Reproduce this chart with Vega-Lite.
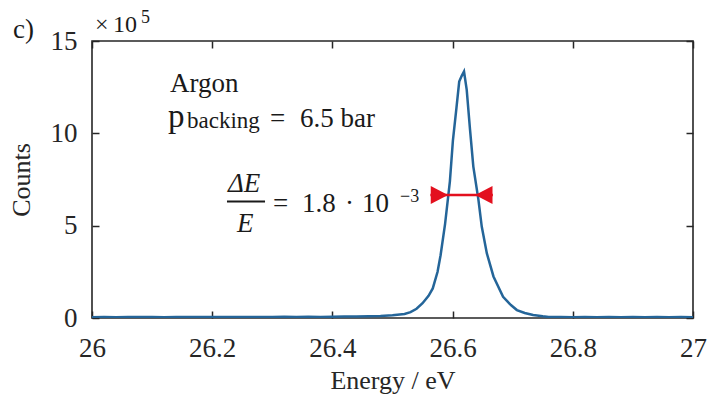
{
  "$schema": "https://vega.github.io/schema/vega-lite/v6.json",
  "width": 601,
  "height": 277,
  "autosize": {"type": "none"},
  "padding": {"left": 92, "top": 41, "right": 15, "bottom": 85},
  "config": {
    "font": "Liberation Serif",
    "view": {"stroke": "#262626", "strokeWidth": 1.6},
    "text": {"font": "Liberation Serif"},
    "axis": {
      "domain": false, "grid": false, "tickSize": -7, "tickWidth": 1.5, "tickColor": "#262626",
      "labelFont": "Liberation Serif", "titleFont": "Liberation Serif",
      "labelFontSize": 27, "labelColor": "#262626", "titleFontSize": 26, "titleFontWeight": "normal",
      "titleColor": "#262626", "labelFlush": false
    }
  },
  "datasets": {
    "spectrum": [
      {"energy": 26.00, "counts": 0.04}, {"energy": 26.02, "counts": 0.05}, {"energy": 26.04, "counts": 0.04},
      {"energy": 26.06, "counts": 0.05}, {"energy": 26.08, "counts": 0.06}, {"energy": 26.10, "counts": 0.05},
      {"energy": 26.12, "counts": 0.04}, {"energy": 26.14, "counts": 0.05}, {"energy": 26.16, "counts": 0.06},
      {"energy": 26.18, "counts": 0.05}, {"energy": 26.20, "counts": 0.05}, {"energy": 26.22, "counts": 0.06},
      {"energy": 26.24, "counts": 0.05}, {"energy": 26.26, "counts": 0.06}, {"energy": 26.28, "counts": 0.05},
      {"energy": 26.30, "counts": 0.06}, {"energy": 26.32, "counts": 0.07}, {"energy": 26.34, "counts": 0.06},
      {"energy": 26.36, "counts": 0.07}, {"energy": 26.38, "counts": 0.06}, {"energy": 26.40, "counts": 0.07},
      {"energy": 26.42, "counts": 0.08}, {"energy": 26.44, "counts": 0.08}, {"energy": 26.46, "counts": 0.09},
      {"energy": 26.48, "counts": 0.11}, {"energy": 26.50, "counts": 0.15}, {"energy": 26.52, "counts": 0.22},
      {"energy": 26.53, "counts": 0.32}, {"energy": 26.54, "counts": 0.5}, {"energy": 26.55, "counts": 0.8},
      {"energy": 26.56, "counts": 1.2}, {"energy": 26.567, "counts": 1.6}, {"energy": 26.575, "counts": 2.5},
      {"energy": 26.58, "counts": 3.4}, {"energy": 26.5875, "counts": 5.1}, {"energy": 26.5955, "counts": 7.4},
      {"energy": 26.6005, "counts": 9.6}, {"energy": 26.6065, "counts": 11.4}, {"energy": 26.611, "counts": 12.8},
      {"energy": 26.615, "counts": 13.1}, {"energy": 26.619, "counts": 13.35}, {"energy": 26.6235, "counts": 12.35},
      {"energy": 26.629, "counts": 10.2}, {"energy": 26.6345, "counts": 8.2}, {"energy": 26.643, "counts": 6.4},
      {"energy": 26.6485, "counts": 4.95}, {"energy": 26.657, "counts": 3.5}, {"energy": 26.668, "counts": 2.25},
      {"energy": 26.684, "counts": 1.15}, {"energy": 26.697, "counts": 0.7}, {"energy": 26.707, "counts": 0.43},
      {"energy": 26.72, "counts": 0.27}, {"energy": 26.734, "counts": 0.16}, {"energy": 26.75, "counts": 0.09},
      {"energy": 26.76, "counts": 0.06}, {"energy": 26.78, "counts": 0.05}, {"energy": 26.80, "counts": 0.04},
      {"energy": 26.82, "counts": 0.05}, {"energy": 26.84, "counts": 0.04}, {"energy": 26.86, "counts": 0.05},
      {"energy": 26.88, "counts": 0.04}, {"energy": 26.90, "counts": 0.05}, {"energy": 26.92, "counts": 0.04},
      {"energy": 26.94, "counts": 0.05}, {"energy": 26.96, "counts": 0.04}, {"energy": 26.98, "counts": 0.05},
      {"energy": 27.00, "counts": 0.04}
    ],
    "fwhm": [{"start": 26.563, "end": 26.667, "level": 6.66}],
    "arrowheads": [
      {"energy": 26.578, "level": 6.66, "direction": "right"},
      {"energy": 26.652, "level": 6.66, "direction": "left"}
    ],
    "fractionbar": [{"start": 26.2246, "end": 26.2879, "level": 6.31}],
    "notes": [
      {"text": "c)", "energy": 25.8686, "counts": 15.16, "part": "big"},
      {"text": "Argon", "energy": 26.1298, "counts": 12.25, "part": "big"},
      {"text": "=", "energy": 26.2962, "counts": 10.36, "part": "big"},
      {"text": "6.5 bar", "energy": 26.3461, "counts": 10.36, "part": "big"},
      {"text": "=", "energy": 26.3012, "counts": 5.76, "part": "big"},
      {"text": "1.8", "energy": 26.3494, "counts": 5.76, "part": "big"},
      {"text": "·", "energy": 26.4210, "counts": 5.76, "part": "big"},
      {"text": "10", "energy": 26.4493, "counts": 5.76, "part": "big"},
      {"text": "p", "energy": 26.1265, "counts": 10.36, "part": "huge"},
      {"text": "ΔE", "energy": 26.2263, "counts": 6.82, "part": "italic"},
      {"text": "E", "energy": 26.2413, "counts": 4.66, "part": "italic"},
      {"text": "backing", "energy": 26.158, "counts": 10.29, "part": "sub"},
      {"text": "−3", "energy": 26.5125, "counts": 6.28, "part": "sup"},
      {"text": "5", "energy": 26.0815, "counts": 15.97, "part": "sup"},
      {"text": "×", "energy": 26.005, "counts": 15.49, "part": "mult"},
      {"text": "10", "energy": 26.035, "counts": 15.49, "part": "mult"}
    ]
  },
  "resolve": {"axis": {"x": "independent", "y": "independent"}},
  "layer": [
    {
      "data": {"name": "spectrum"},
      "mark": {"type": "line", "color": "#246599", "strokeWidth": 2.5, "clip": true},
      "encoding": {
        "x": {"field": "energy", "type": "quantitative", "scale": {"domain": [26, 27], "nice": false, "zero": false},
          "axis": {"orient": "bottom", "values": [26, 26.2, 26.4, 26.6, 26.8, 27], "format": "~g", "title": "Energy / eV", "labelPadding": 24, "titlePadding": 6}},
        "y": {"field": "counts", "type": "quantitative", "scale": {"domain": [0, 15], "nice": false},
          "axis": {"orient": "left", "values": [0, 5, 10, 15], "title": "Counts", "labelPadding": 22, "titlePadding": 16}}
      }
    },
    {
      "data": {"name": "fwhm"},
      "mark": {"type": "rule", "color": "#e3101e", "strokeWidth": 2.5},
      "encoding": {
        "x": {"field": "start", "type": "quantitative", "scale": {"domain": [26, 27], "nice": false, "zero": false},
          "axis": {"orient": "top", "values": [26, 26.2, 26.4, 26.6, 26.8, 27], "labels": false, "title": null}},
        "x2": {"field": "end"},
        "y": {"field": "level", "type": "quantitative", "scale": {"domain": [0, 15], "nice": false},
          "axis": {"orient": "right", "values": [0, 5, 10, 15], "labels": false, "title": null}}
      }
    },
    {
      "data": {"name": "arrowheads"},
      "mark": {"type": "point", "filled": true, "color": "#e3101e", "opacity": 1, "size": 330},
      "encoding": {
        "x": {"field": "energy", "type": "quantitative", "scale": {"domain": [26, 27], "nice": false, "zero": false}, "axis": null},
        "y": {"field": "level", "type": "quantitative", "scale": {"domain": [0, 15], "nice": false}, "axis": null},
        "shape": {"field": "direction", "type": "nominal", "legend": null,
          "scale": {"domain": ["right", "left"], "range": ["M-0.95,-1L0.95,0L-0.95,1Z", "M0.95,-1L-0.95,0L0.95,1Z"]}}
      }
    },
    {
      "data": {"name": "fractionbar"},
      "mark": {"type": "rule", "color": "#1a1a1a", "strokeWidth": 2},
      "encoding": {
        "x": {"field": "start", "type": "quantitative", "scale": {"domain": [26, 27], "nice": false, "zero": false}, "axis": null},
        "x2": {"field": "end"},
        "y": {"field": "level", "type": "quantitative", "scale": {"domain": [0, 15], "nice": false}, "axis": null}
      }
    },
    {
      "data": {"name": "notes"},
      "transform": [{"filter": "datum.part === 'big'"}],
      "mark": {"type": "text", "align": "left", "baseline": "alphabetic", "font": "Liberation Serif", "fontSize": 27, "color": "#1a1a1a"},
      "encoding": {
        "x": {"field": "energy", "type": "quantitative", "scale": {"domain": [26, 27], "nice": false, "zero": false}, "axis": null},
        "y": {"field": "counts", "type": "quantitative", "scale": {"domain": [0, 15], "nice": false}, "axis": null},
        "text": {"field": "text"}
      }
    },
    {
      "data": {"name": "notes"},
      "transform": [{"filter": "datum.part === 'huge'"}],
      "mark": {"type": "text", "align": "left", "baseline": "alphabetic", "font": "Liberation Serif", "fontSize": 33, "color": "#1a1a1a"},
      "encoding": {
        "x": {"field": "energy", "type": "quantitative", "scale": {"domain": [26, 27], "nice": false, "zero": false}, "axis": null},
        "y": {"field": "counts", "type": "quantitative", "scale": {"domain": [0, 15], "nice": false}, "axis": null},
        "text": {"field": "text"}
      }
    },
    {
      "data": {"name": "notes"},
      "transform": [{"filter": "datum.part === 'italic'"}],
      "mark": {"type": "text", "align": "left", "baseline": "alphabetic", "font": "Liberation Serif", "fontSize": 27, "fontStyle": "italic", "color": "#1a1a1a"},
      "encoding": {
        "x": {"field": "energy", "type": "quantitative", "scale": {"domain": [26, 27], "nice": false, "zero": false}, "axis": null},
        "y": {"field": "counts", "type": "quantitative", "scale": {"domain": [0, 15], "nice": false}, "axis": null},
        "text": {"field": "text"}
      }
    },
    {
      "data": {"name": "notes"},
      "transform": [{"filter": "datum.part === 'sub'"}],
      "mark": {"type": "text", "align": "left", "baseline": "alphabetic", "font": "Liberation Serif", "fontSize": 23, "color": "#1a1a1a"},
      "encoding": {
        "x": {"field": "energy", "type": "quantitative", "scale": {"domain": [26, 27], "nice": false, "zero": false}, "axis": null},
        "y": {"field": "counts", "type": "quantitative", "scale": {"domain": [0, 15], "nice": false}, "axis": null},
        "text": {"field": "text"}
      }
    },
    {
      "data": {"name": "notes"},
      "transform": [{"filter": "datum.part === 'sup'"}],
      "mark": {"type": "text", "align": "left", "baseline": "alphabetic", "font": "Liberation Serif", "fontSize": 18, "color": "#1a1a1a"},
      "encoding": {
        "x": {"field": "energy", "type": "quantitative", "scale": {"domain": [26, 27], "nice": false, "zero": false}, "axis": null},
        "y": {"field": "counts", "type": "quantitative", "scale": {"domain": [0, 15], "nice": false}, "axis": null},
        "text": {"field": "text"}
      }
    },
    {
      "data": {"name": "notes"},
      "transform": [{"filter": "datum.part === 'mult'"}],
      "mark": {"type": "text", "align": "left", "baseline": "alphabetic", "font": "Liberation Serif", "fontSize": 24, "color": "#1a1a1a"},
      "encoding": {
        "x": {"field": "energy", "type": "quantitative", "scale": {"domain": [26, 27], "nice": false, "zero": false}, "axis": null},
        "y": {"field": "counts", "type": "quantitative", "scale": {"domain": [0, 15], "nice": false}, "axis": null},
        "text": {"field": "text"}
      }
    }
  ]
}
